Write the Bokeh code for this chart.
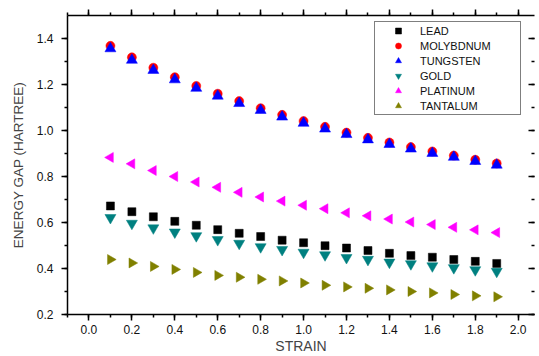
import math
from bokeh.plotting import figure
from bokeh.models import (LinearAxis, SingleIntervalTicker, NumeralTickFormatter,
                          PrintfTickFormatter, Legend, LegendItem, ColumnDataSource)
from bokeh.embed import file_html
from bokeh.resources import INLINE

# ---- data ----
strain = [0.1, 0.2, 0.3, 0.4, 0.5, 0.6, 0.7, 0.8, 0.9, 1.0,
          1.1, 1.2, 1.3, 1.4, 1.5, 1.6, 1.7, 1.8, 1.9]
lead = [0.672, 0.647, 0.625, 0.605, 0.588, 0.569, 0.553, 0.539, 0.523, 0.512,
        0.499, 0.489, 0.478, 0.466, 0.456, 0.449, 0.439, 0.431, 0.422]
molybdnum = [1.368, 1.318, 1.273, 1.232, 1.194, 1.160, 1.128, 1.097, 1.068, 1.041,
             1.016, 0.991, 0.968, 0.948, 0.928, 0.909, 0.891, 0.873, 0.857]
tungsten = [1.356, 1.306, 1.262, 1.221, 1.184, 1.150, 1.118, 1.088, 1.059, 1.032,
            1.007, 0.983, 0.960, 0.940, 0.920, 0.901, 0.884, 0.866, 0.850]
gold = [0.621, 0.596, 0.576, 0.558, 0.542, 0.525, 0.509, 0.494, 0.482, 0.470,
        0.459, 0.447, 0.439, 0.427, 0.420, 0.411, 0.403, 0.394, 0.387]
platinum = [0.883, 0.855, 0.826, 0.800, 0.776, 0.753, 0.731, 0.711, 0.693, 0.675,
            0.660, 0.642, 0.629, 0.615, 0.602, 0.591, 0.579, 0.568, 0.556]
tantalum = [0.439, 0.424, 0.409, 0.396, 0.383, 0.370, 0.362, 0.353, 0.346, 0.337,
            0.327, 0.320, 0.314, 0.307, 0.300, 0.294, 0.287, 0.281, 0.277]

series_names = ["LEAD", "MOLYBDNUM", "TUNGSTEN", "GOLD", "PLATINUM", "TANTALUM"]
series_values = [lead, molybdnum, tungsten, gold, platinum, tantalum]
series_colors = ["#000000", "#FF0000", "#0000FF", "#008080", "#FF00FF", "#808000"]
series_markers = ["square", "circle", "triangle", "inverted_triangle", "triangle", "triangle"]
series_sizes = [8, 9, 11, 11, 10, 10]
series_angles = [0, 0, 0, 0, math.pi / 2, -math.pi / 2]

FONT = "Liberation Sans"

p = figure(width=539, height=356, x_range=(-0.1, 2.076), y_range=(0.2, 1.5),
           output_backend="svg", toolbar_location=None,
           min_border_left=67, min_border_top=12, min_border_right=0, min_border_bottom=42)
p.xgrid.visible = False
p.ygrid.visible = False
p.outline_line_color = None
p.background_fill_color = "white"
p.border_fill_color = "white"


def style_axis(ax):
    ax.axis_line_color = "black"
    ax.axis_line_width = 1.5
    ax.major_tick_line_color = "black"
    ax.minor_tick_line_color = "black"
    ax.major_tick_line_width = 1.5
    ax.minor_tick_line_width = 1.5
    ax.major_tick_in = 0
    ax.major_tick_out = 6
    ax.minor_tick_in = 0
    ax.minor_tick_out = 3
    ax.major_label_text_font = FONT
    ax.major_label_text_font_size = "12px"
    ax.major_label_text_color = "#111111"


xax = p.below[0]
xax.ticker = SingleIntervalTicker(interval=0.2, num_minor_ticks=2)
style_axis(xax)
xax.formatter = NumeralTickFormatter(format="0.0")
xax.major_label_standoff = 4
xax.axis_label = "STRAIN"
xax.axis_label_text_font = FONT
xax.axis_label_text_font_size = "14px"
xax.axis_label_text_font_style = "normal"
xax.axis_label_standoff = 1

yax = p.left[0]
yax.ticker = SingleIntervalTicker(interval=0.2, num_minor_ticks=2)
style_axis(yax)
yax.formatter = NumeralTickFormatter(format="0.0")
yax.major_label_standoff = 8
yax.axis_label = "ENERGY GAP (HARTREE)"
yax.axis_label_text_font = FONT
yax.axis_label_text_font_size = "13.5px"
yax.axis_label_text_font_style = "normal"
yax.axis_label_standoff = 8

# mirrored axes (ticks only; their labels are blank spaces)
top = LinearAxis()
p.add_layout(top, "above")
top.ticker = SingleIntervalTicker(interval=0.2, num_minor_ticks=2)
style_axis(top)
top.formatter = PrintfTickFormatter(format=" ")
top.major_label_text_font_size = "4px"
top.major_label_standoff = 1

right = LinearAxis()
p.add_layout(right, "right")
right.ticker = SingleIntervalTicker(interval=0.2, num_minor_ticks=2)
style_axis(right)
right.formatter = PrintfTickFormatter(format=" ")
right.major_label_text_font_size = "4px"
right.major_label_standoff = 1
right.axis_line_color = None
right.major_tick_in = 6
right.major_tick_out = 0
right.minor_tick_in = 3
right.minor_tick_out = 0

items = []
for name, vals, col, mk, sz, ang in zip(series_names, series_values, series_colors,
                                        series_markers, series_sizes, series_angles):
    src = ColumnDataSource(dict(x=strain, y=vals))
    r = p.scatter("x", "y", source=src, marker=mk, size=sz, angle=ang,
                  fill_color=col, line_color=col, line_width=0.5)
    items.append(LegendItem(label=name, renderers=[r]))

legend = Legend(items=items, location=(307, 199),
                label_text_font=FONT, label_text_font_size="11px",
                label_text_color="#111111",
                glyph_width=44, glyph_height=15, label_height=15, label_width=99,
                label_standoff=0, spacing=0, padding=1, margin=0,
                border_line_color="black", border_line_width=1,
                background_fill_color="white", background_fill_alpha=1.0)
p.add_layout(legend)

open("out.html", "w").write(file_html(p, INLINE))
